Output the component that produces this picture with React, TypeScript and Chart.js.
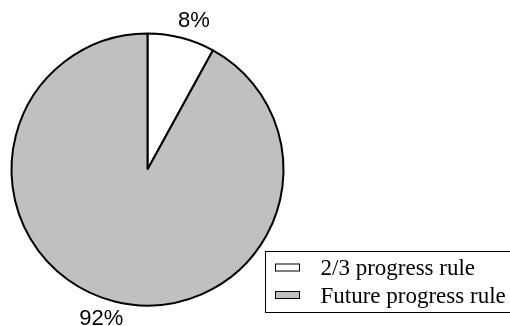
import React, { useEffect, useRef } from "react";
import { Chart, registerables } from "chart.js";

Chart.register(...registerables);

const categories = ["2/3 progress rule", "Future progress rule"];
const values = [8, 92];
const valueLabels = ["8%", "92%"];
const colors = ["#ffffff", "#c0c0c0"];

const overlayPlugin = {
  id: "overlay",
  afterDraw(chart: any) {
    const ctx = chart.ctx as CanvasRenderingContext2D;
    const meta = chart.getDatasetMeta(0);
    ctx.save();
    // percentage labels
    ctx.font = '22px "Liberation Sans", Arial, sans-serif';
    ctx.fillStyle = "#000";
    ctx.textAlign = "center";
    ctx.textBaseline = "middle";
    meta.data.forEach((arc: any, i: number) => {
      const mid = (arc.startAngle + arc.endAngle) / 2 + 0.05;
      const r = arc.outerRadius + 20;
      const x = arc.x + Math.cos(mid) * r;
      const y = arc.y + Math.sin(mid) * r;
      ctx.fillText(valueLabels[i], x, y);
    });
    // legend
    const bx = 265.5, by = 251.5, bw = 260, bh = 61;
    ctx.lineWidth = 1;
    ctx.strokeStyle = "#000";
    ctx.strokeRect(bx, by, bw, bh);
    ctx.font = '23px "Liberation Serif", "Times New Roman", serif';
    ctx.textAlign = "left";
    ctx.textBaseline = "alphabetic";
    categories.forEach((c, i) => {
      const cy = 267.5 + i * 27.5;
      ctx.fillStyle = colors[i];
      ctx.fillRect(275.5, cy - 3.5, 24, 7);
      ctx.strokeStyle = "#000";
      ctx.lineWidth = 1;
      ctx.strokeRect(275.5, cy - 3.5, 24, 7);
      ctx.fillStyle = "#000";
      ctx.fillText(c, 320.5, cy + 7.5);
    });
    ctx.restore();
  },
};

export default function App() {
  const ref = useRef<HTMLCanvasElement>(null);
  useEffect(() => {
    document.body.style.margin = "0";
    const chart = new Chart(ref.current!, {
      type: "pie",
      data: {
        labels: categories,
        datasets: [
          {
            data: values,
            backgroundColor: colors,
            borderColor: "#000",
            borderWidth: 2,
          },
        ],
      },
      options: {
        animation: false,
        responsive: false,
        layout: { padding: { left: 10.5, top: 32.5, right: 225.5, bottom: 19.5 } },
        plugins: { legend: { display: false }, tooltip: { enabled: false } },
      },
      plugins: [overlayPlugin],
    });
    return () => chart.destroy();
  }, []);
  return (
    <div style={{ width: 510, height: 326 }}>
      <canvas ref={ref} width={510} height={326} style={{ display: "block" }} />
    </div>
  );
}
